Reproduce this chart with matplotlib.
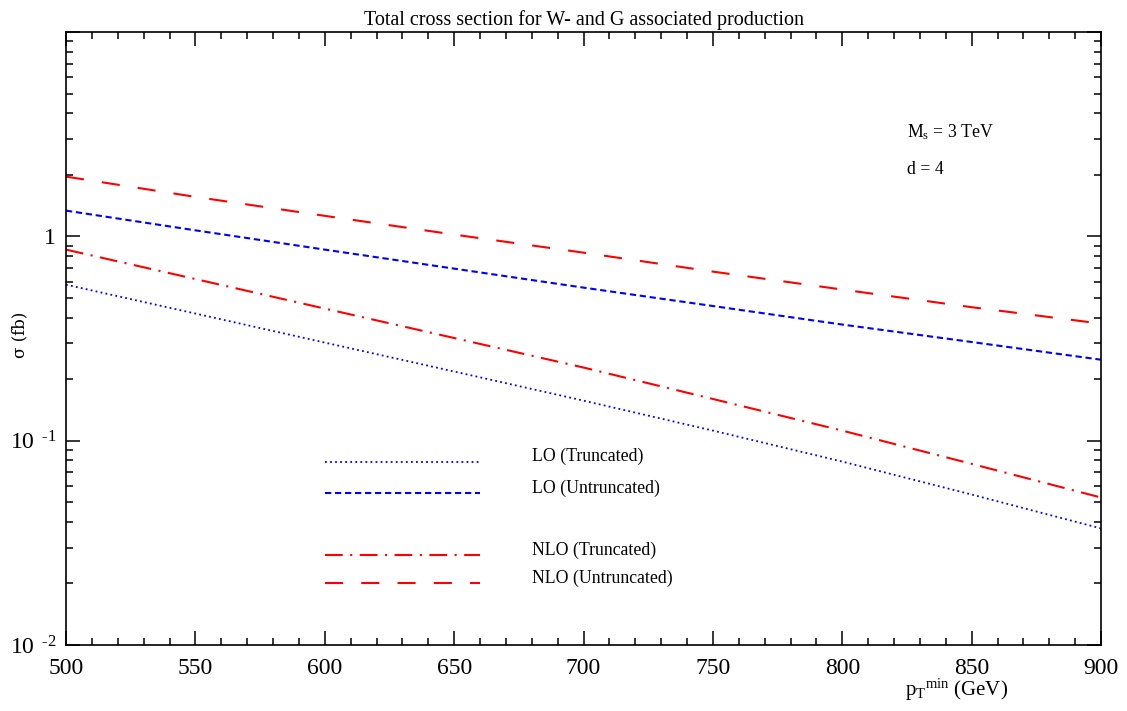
import matplotlib
matplotlib.use("Agg")
import matplotlib.pyplot as plt
from matplotlib.ticker import FixedLocator, FuncFormatter, MultipleLocator, LogLocator, NullFormatter

plt.rcParams['font.family'] = ['Liberation Serif', 'DejaVu Serif']
plt.rcParams['mathtext.fontset'] = 'custom'
plt.rcParams['mathtext.rm'] = 'Liberation Serif'
plt.rcParams['mathtext.it'] = 'Liberation Serif:italic'
plt.rcParams['mathtext.bf'] = 'Liberation Serif:bold'

pt_min = [500, 550, 600, 650, 700, 750, 800, 850, 900]
lo_trunc = [0.580, 0.419, 0.302, 0.218, 0.157, 0.112, 0.079, 0.0545, 0.0372]
lo_untrunc = [1.336, 1.07, 0.861, 0.695, 0.561, 0.456, 0.370, 0.304, 0.249]
nlo_trunc = [0.861, 0.618, 0.443, 0.318, 0.228, 0.160, 0.112, 0.077, 0.0527]
nlo_untrunc = [1.96, 1.56, 1.26, 1.02, 0.832, 0.672, 0.549, 0.45, 0.374]

labels = ["LO (Truncated)", "LO (Untruncated)", "NLO (Truncated)", "NLO (Untruncated)"]

fig = plt.figure(figsize=(11.27, 7.11), dpi=100)
ax = fig.add_axes([66/1127, 1-645/711, (1101-66)/1127, (645-32)/711])

styles = [
    dict(color='blue', lw=1.3, ls=(0, (1, 1.8))),
    dict(color='blue', lw=1.5, ls=(0, (3, 1.8))),
    dict(color='red', lw=1.5, ls=(0, (8.5, 3.6, 1, 3.6))),
    dict(color='red', lw=1.5, ls=(0, (8.7, 8.7))),
]
series = [lo_trunc, lo_untrunc, nlo_trunc, nlo_untrunc]
for s, st in zip(series, styles):
    ax.plot(pt_min, s, **st)

ax.set_yscale('log')
ax.set_xlim(500, 900)
ax.set_ylim(0.01, 10)

ax.xaxis.set_major_locator(MultipleLocator(50))
ax.xaxis.set_minor_locator(MultipleLocator(10))
ax.yaxis.set_major_locator(FixedLocator([0.01, 0.1, 1, 10]))
ax.yaxis.set_minor_locator(LogLocator(base=10, subs=range(2, 10)))
ax.yaxis.set_minor_formatter(NullFormatter())

def yfmt(v, pos):
    if abs(v - 1) < 1e-9:
        return "1"
    if abs(v - 0.1) < 1e-9:
        return r"$10^{\ \ \text{-1}}$"
    if abs(v - 0.01) < 1e-9:
        return r"$10^{\ \ \text{-2}}$"
    return ""
ax.yaxis.set_major_formatter(FuncFormatter(yfmt))

ax.tick_params(which='both', direction='in', top=True, right=True, width=1.1)
ax.tick_params(which='major', length=10, labelsize=17)
ax.tick_params(which='minor', length=5)
ax.tick_params(axis='x', pad=9)
ax.tick_params(axis='y', pad=7)
for sp in ax.spines.values():
    sp.set_linewidth(1.2)

# legend drawn manually in data coordinates
leg_y = [0.079, 0.0552, 0.0275, 0.0200]
for yv, st, lab in zip(leg_y, styles, labels):
    ax.plot([600, 660], [yv, yv], **st)
    ax.text(680, yv * 1.06, lab, fontsize=12.8, va='center', ha='left')

ax.text(0.813, 0.836, r"M$_{\rm s}$ = 3 TeV", transform=ax.transAxes, fontsize=12.8, va='center')
ax.text(0.813, 0.775, "d = 4", transform=ax.transAxes, fontsize=12.8, va='center')

ax.set_title("Total cross section for W- and G associated production", fontsize=14.5, pad=5)
ax.text((957-66)/1035, -(690-645)/613, r"p$_{\rm T}$$^{\rm min}$ (GeV)", transform=ax.transAxes,
        fontsize=15, ha='center', va='center')
fig.text(20/1127, 1-335/711, "σ (fb)", rotation=90, fontsize=12, ha='center', va='center',
         family=['DejaVu Serif'])

fig.savefig("out.png", dpi=100)
